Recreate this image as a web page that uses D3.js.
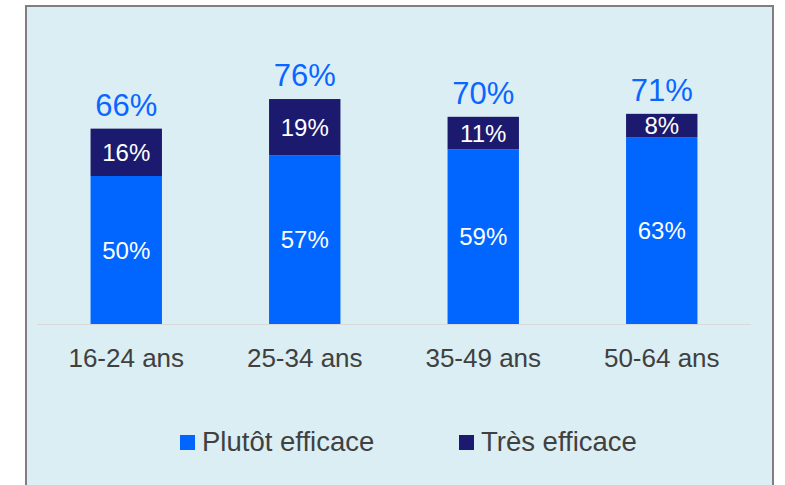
<!DOCTYPE html>
<html lang="fr">
<head>
    <meta charset="UTF-8">
    <title>Efficacité par âge</title>
    <script src="https://d3js.org/d3.v7.min.js"></script>
    <style>
        body { margin: 0; background: #fff; }
        text { font-family: "Liberation Sans", Arial, sans-serif; }
        .cat { font-size: 26px; fill: #404040; }
        .seg { font-size: 24px; fill: #fff; }
        .total { font-size: 31px; fill: #0a66ff; }
        .legend { font-size: 27.5px; fill: #404040; }
    </style>
</head>
<body>
    <svg width="785" height="485"></svg>
    <script>
        // data
        const categories = ["16-24 ans", "25-34 ans", "35-49 ans", "50-64 ans"];
        const plutot = [50, 57, 59, 63];
        const tres = [16, 19, 11, 8];
        const totals = [66, 76, 70, 71];
        const seriesNames = ["Plutôt efficace", "Très efficace"];
        const seriesColors = ["#0066ff", "#1c1a6e"];

        const svg = d3.select("svg");

        // panel
        svg.append("rect")
            .attr("x", 26).attr("y", 6)
            .attr("width", 747).attr("height", 500)
            .attr("fill", "#daeef3")
            .attr("stroke", "#7f7f7f")
            .attr("stroke-width", 2);

        const x = d3.scaleBand()
            .domain(categories)
            .range([37, 751])
            .paddingInner(0.6)
            .paddingOuter(0.3);

        const y = d3.scaleLinear()
            .domain([0, 100])
            .range([324, 28]);

        const rows = categories.map((c, i) => ({ cat: c, plutot: plutot[i], tres: tres[i], total: totals[i] }));
        const stack = d3.stack().keys(["plutot", "tres"])(rows);

        // baseline
        svg.append("line")
            .attr("x1", x.range()[0]).attr("x2", x.range()[1])
            .attr("y1", y(0) + 0.5).attr("y2", y(0) + 0.5)
            .attr("stroke", "#d9d9d9")
            .attr("stroke-width", 1);

        const layer = svg.selectAll(".layer")
            .data(stack)
            .enter().append("g")
            .attr("class", "layer")
            .attr("fill", (d, i) => seriesColors[i]);

        layer.selectAll("rect")
            .data(d => d)
            .enter().append("rect")
            .attr("x", d => x(d.data.cat))
            .attr("width", x.bandwidth())
            .attr("y", d => y(d[1]))
            .attr("height", d => y(d[0]) - y(d[1]));

        layer.selectAll("text")
            .data(d => d)
            .enter().append("text")
            .attr("class", "seg")
            .attr("x", d => x(d.data.cat) + x.bandwidth() / 2)
            .attr("y", d => (y(d[0]) + y(d[1])) / 2)
            .attr("dy", "0.36em")
            .attr("text-anchor", "middle")
            .text(d => (d[1] - d[0]) + "%");

        // totals
        svg.selectAll(".total")
            .data(rows)
            .enter().append("text")
            .attr("class", "total")
            .attr("x", d => x(d.cat) + x.bandwidth() / 2)
            .attr("y", d => y(d.total) - 13)
            .attr("text-anchor", "middle")
            .text(d => d.total + "%");

        // category labels
        svg.selectAll(".cat")
            .data(categories)
            .enter().append("text")
            .attr("class", "cat")
            .attr("x", d => x(d) + x.bandwidth() / 2)
            .attr("y", 366.5)
            .attr("text-anchor", "middle")
            .text(d => d);

        // legend
        const legendX = [180, 459];
        const lg = svg.selectAll(".lg")
            .data(seriesNames)
            .enter().append("g")
            .attr("class", "lg")
            .attr("transform", (d, i) => `translate(${legendX[i]},435)`);

        lg.append("rect")
            .attr("width", 15).attr("height", 15)
            .attr("fill", (d, i) => seriesColors[i]);

        lg.append("text")
            .attr("class", "legend")
            .attr("x", 22)
            .attr("y", 16)
            .text(d => d);
    </script>
</body>
</html>
